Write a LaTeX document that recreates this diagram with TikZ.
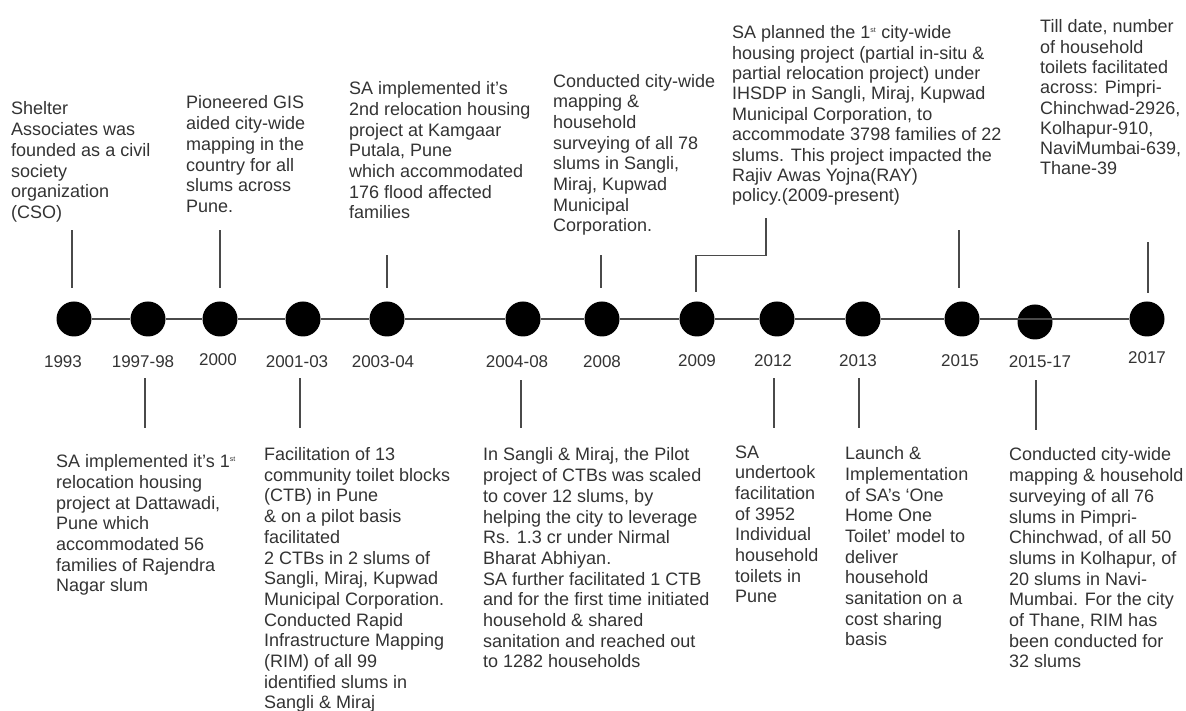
\documentclass[tikz,border=0pt]{standalone}
\usepackage{fontspec}
\setmainfont{Liberation Sans}
\definecolor{inkgray}{HTML}{333333}
\definecolor{linegray}{HTML}{4A4A4A}

\begin{document}
\begin{tikzpicture}[x=1pt,y=1pt,
	milestone/.style={circle,fill=black,minimum size=35pt,inner sep=0pt},
	yearlabel/.style={text=inkgray,inner sep=0pt,font=\fontsize{17}{19}\selectfont},
	event/.style={anchor=base west,align=left,inner sep=0pt,text=inkgray,font=\fontsize{18}{20.7}\selectfont},
	stem/.style={draw=linegray,line width=1.3pt},
	axis/.style={draw=linegray,line width=1.2pt}]

\useasboundingbox (0,0) rectangle (1186,711);

%%%%%%%%%%%%%%%%%%%%%%%%%%%%%%%%%%%%%%%%%%

\node [milestone] (c1993) at (74,392) {};
\node [milestone] (c1997) at (148,392) {};
\node [milestone] (c2000) at (220,392) {};
\node [milestone] (c2001) at (303,392) {};
\node [milestone] (c2003) at (387,392) {};
\node [milestone] (c2004) at (523,392) {};
\node [milestone] (c2008) at (602,392) {};
\node [milestone] (c2009) at (697,392) {};
\node [milestone] (c2012) at (777,392) {};
\node [milestone] (c2013) at (863,392) {};
\node [milestone] (c2015) at (962,392) {};
\node [milestone] (c2015b) at (1035,389) {};
\node [milestone] (c2017) at (1147,392) {};

\draw [axis] (c1993) -- (c1997) -- (c2000) -- (c2001) -- (c2003) -- (c2004)
	-- (c2008) -- (c2009) -- (c2012) -- (c2013) -- (c2015) -- (c2017);

\node [yearlabel] (y1993) at (63,349) {1993};
\node [yearlabel] (y1997) at (143,349) {1997-98};
\node [yearlabel] (y2000) at (218,351) {2000};
\node [yearlabel] (y2001) at (297,349) {2001-03};
\node [yearlabel] (y2003) at (383,349) {2003-04};
\node [yearlabel] (y2004) at (517,349) {2004-08};
\node [yearlabel] (y2008) at (602,349) {2008};
\node [yearlabel] (y2009) at (697,350) {2009};
\node [yearlabel] (y2012) at (773,350) {2012};
\node [yearlabel] (y2013) at (858,350) {2013};
\node [yearlabel] (y2015) at (960,350) {2015};
\node [yearlabel] (y2015b) at (1040,349) {2015-17};
\node [yearlabel] (y2017) at (1147,353) {2017};

%%%%%%%%%%%%%%%%%%%%%%%%%%%%%%%%%%%%%%%%%%

\draw [stem] (c1993.north) ++(-2,13.5) to +(0,58);
\draw [stem] (c2000.north) ++(0,13.5) to +(0,58);
\draw [stem] (c2003.north) ++(0,13.5) to +(0,33);
\draw [stem] (c2008.north) ++(-1,13.5) to +(0,33);
\draw [stem] (c2009.north) ++(-1,9.5) -- ++(0,36) -- ++(70,0) -- ++(0,38);
\draw [stem] (c2015.north) ++(-3,13.5) to +(0,58);
\draw [stem] (c2017.north) ++(1,8.5) to +(0,51);

\draw [stem] (c1997.south) ++(-3,-41.5) to +(0,-50);
\draw [stem] (c2001.south) ++(-3,-41.5) to +(0,-50);
\draw [stem] (c2004.south) ++(-2,-43.5) to +(0,-48);
\draw [stem] (c2012.south) ++(-3,-41.5) to +(0,-50);
\draw [stem] (c2013.south) ++(-4,-41.5) to +(0,-50);
\draw [stem] (c2015b.south) ++(1,-40.5) to +(0,-50);

%%%%%%%%%%%%%%%%%%%%%%%%%%%%%%%%%%%%%%%%%%

\node [event] (e1993) at (11,492.5) {Shelter\\Associates was\\founded as a civil\\society\\organization\\(CSO)};

\node [event] (e2000) at (186,498.5) {Pioneered GIS\\aided city-wide\\mapping in the\\country for all\\slums across\\Pune.};

\node [event] (e2003) at (349,492) {SA implemented it's\\2nd relocation housing\\project at Kamgaar\\Putala, Pune\\which accommodated\\176 flood affected\\families};

\node [event] (e2008) at (553,479) {Conducted city-wide\\mapping \&\\household\\surveying of all 78\\slums in Sangli,\\Miraj, Kupwad\\Municipal\\Corporation.};

\node [event, font=\fontsize{18}{20.4}\selectfont] (e2009) at (732,509) {SA planned the 1\textsuperscript{\scriptsize st} city-wide\\housing project (partial in-situ \&\\partial relocation project) under\\IHSDP in Sangli, Miraj, Kupwad\\Municipal Corporation, to\\accommodate 3798 families of 22\\slums. This project impacted the\\Rajiv Awas Yojna(RAY)\\policy.(2009-present)};

\node [event, font=\fontsize{18}{20.3}\selectfont] (e2017) at (1040,536) {Till date, number\\of household\\toilets facilitated\\across: Pimpri-\\Chinchwad-2926,\\Kolhapur-910,\\NaviMumbai-639,\\Thane-39};

%%%%%%%%%%%%%%%%%%%%%%%%%%%%%%%%%%%%%%%%%%

\node [event] (e1997) at (56,119) {SA implemented it's 1\textsuperscript{\scriptsize st}\\relocation housing\\project at Dattawadi,\\Pune which\\accommodated 56\\families of Rajendra\\Nagar slum};

\node [event] (e2001) at (264,2) {Facilitation of 13\\community toilet blocks\\(CTB) in Pune\\\& on a pilot basis\\facilitated\\2 CTBs in 2 slums of\\Sangli, Miraj, Kupwad\\Municipal Corporation.\\Conducted Rapid\\Infrastructure Mapping\\(RIM) of all 99\\identified slums in\\Sangli \& Miraj};

\node [event] (e2004) at (483,43) {In Sangli \& Miraj, the Pilot\\project of CTBs was scaled\\to cover 12 slums, by\\helping the city to leverage\\Rs. 1.3 cr under Nirmal\\Bharat Abhiyan.\\SA further facilitated 1 CTB\\and for the first time initiated\\household \& shared\\sanitation and reached out\\to 1282 households};

\node [event] (e2012) at (735,108) {SA\\undertook\\facilitation\\of 3952\\Individual\\household\\toilets in\\Pune};

\node [event] (e2013) at (845,65) {Launch \&\\Implementation\\of SA's `One\\Home One\\Toilet' model to\\deliver\\household\\sanitation on a\\cost sharing\\basis};

\node [event] (e2015b) at (1009,43) {Conducted city-wide\\mapping \& household\\surveying of all 76\\slums in Pimpri-\\Chinchwad, of all 50\\slums in Kolhapur, of\\20 slums in Navi-\\Mumbai. For the city\\of Thane, RIM has\\been conducted for\\32 slums};

\end{tikzpicture}
\end{document}
